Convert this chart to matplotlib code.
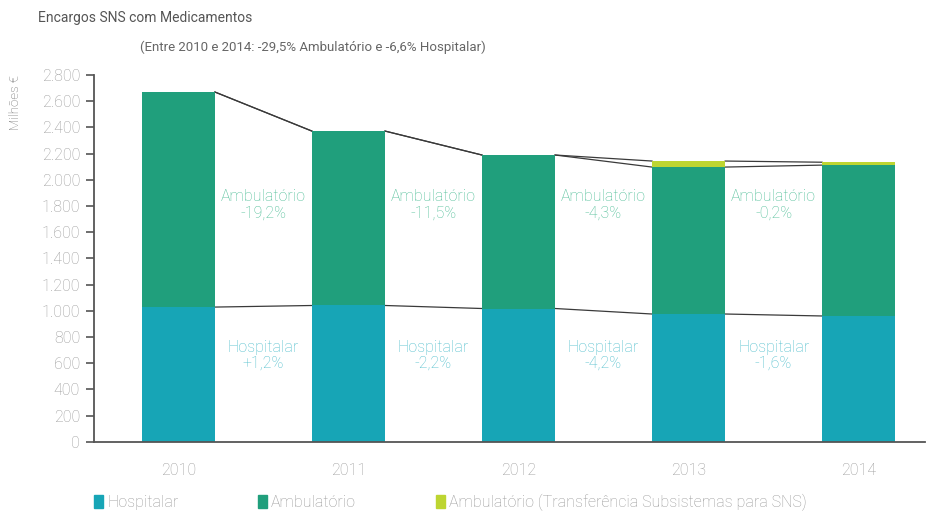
import numpy as np
import matplotlib.pyplot as plt
from matplotlib.patches import Patch
from matplotlib.ticker import FuncFormatter

plt.rcParams['font.family'] = ['Roboto', 'DejaVu Sans']

anos = ["2010", "2011", "2012", "2013", "2014"]
hospitalar = [1028, 1040, 1017, 975, 960]
ambulatorio = [1642, 1332, 1172, 1122, 1152]
transferencia = [0, 0, 0, 46, 22]
lbl_amb = ["Ambulatório\n-19,2%", "Ambulatório\n-11,5%", "Ambulatório\n-4,3%", "Ambulatório\n-0,2%"]
lbl_hosp = ["Hospitalar\n+1,2%", "Hospitalar\n-2,2%", "Hospitalar\n-4,2%", "Hospitalar\n-1,6%"]

c_hosp = "#17a5b6"
c_amb = "#209f7c"
c_trans = "#bdd531"
c_grey = "#9a9a9a"

fig = plt.figure(figsize=(9.28, 5.12), dpi=100)
ax = fig.add_axes([94 / 928, 1 - 441.7 / 512, (925 - 94) / 928, (441.7 - 75) / 512])

x = np.arange(len(anos))
w = 0.43
hosp = np.array(hospitalar)
amb = np.array(ambulatorio)
trans = np.array(transferencia)
ax.bar(x, hosp, w, color=c_hosp, zorder=2)
ax.bar(x, amb, w, bottom=hosp, color=c_amb, zorder=2)
ax.bar(x, trans, w, bottom=hosp + amb, color=c_trans, zorder=2)

# linhas entre as barras
for lvl in [hosp, hosp + amb, hosp + amb + trans]:
    for i in range(len(x) - 1):
        ax.plot([x[i] + w / 2, x[i + 1] - w / 2], [lvl[i], lvl[i + 1]],
                color="#3a3a3a", lw=0.9, zorder=1)

for i in range(len(x) - 1):
    xm = x[i] + 0.5
    ax.text(xm, 1810, lbl_amb[i], ha="center", va="center", color="#4dbd96",
            fontsize=11.5, fontweight="light", linespacing=1.1)
    ax.text(xm, 660, lbl_hosp[i], ha="center", va="center", color="#4fbecc",
            fontsize=11.5, fontweight="light", linespacing=1.1)

ax.set_xlim(-0.496, 4.39)
ax.set_ylim(0, 2800)
ax.set_yticks(np.arange(0, 2801, 200))
ax.yaxis.set_major_formatter(FuncFormatter(lambda v, p: f"{int(v):,}".replace(",", ".")))
ax.set_xticks(x)
ax.set_xticklabels(anos)
for s in ["top", "right"]:
    ax.spines[s].set_visible(False)
for s in ["left", "bottom"]:
    ax.spines[s].set_color("#555555")
    ax.spines[s].set_linewidth(1.3)
ax.tick_params(axis="y", length=6, width=1.2, color="#555555", labelcolor=c_grey,
               labelsize=11.5, pad=4)
ax.tick_params(axis="x", length=0, labelcolor=c_grey, labelsize=11.5, pad=15)
for t in ax.get_xticklabels() + ax.get_yticklabels():
    t.set_fontweight("light")

fig.text(38 / 928, 1 - 18 / 512, "Encargos SNS com Medicamentos", fontsize=10,
         color="#555555", va="center")
fig.text(140 / 928, 1 - 47 / 512,
         "(Entre 2010 e 2014: -29,5% Ambulatório e -6,6% Hospitalar)",
         fontsize=9.5, color="#666666", va="center")
fig.text(16 / 928, 1 - 75 / 512, "Milhões €", rotation=90, fontsize=9.5,
         color="#666666", ha="center", va="top", fontweight="light")

handles = [Patch(color=c_hosp), Patch(color=c_amb), Patch(color=c_trans)]
labels = ["Hospitalar", "Ambulatório", "Ambulatório (Transferência Subsistemas para SNS)"]
leg = fig.legend(handles, labels, loc="center left", bbox_to_anchor=(80 / 928, 1 - 502 / 512),
                 ncol=3, frameon=False, handlelength=0.55, handleheight=0.9,
                 handletextpad=0.25, columnspacing=5.0, fontsize=11.5,
                 labelcolor="#999999")
for t in leg.get_texts():
    t.set_fontweight("light")

fig.savefig("out.png", dpi=100)
